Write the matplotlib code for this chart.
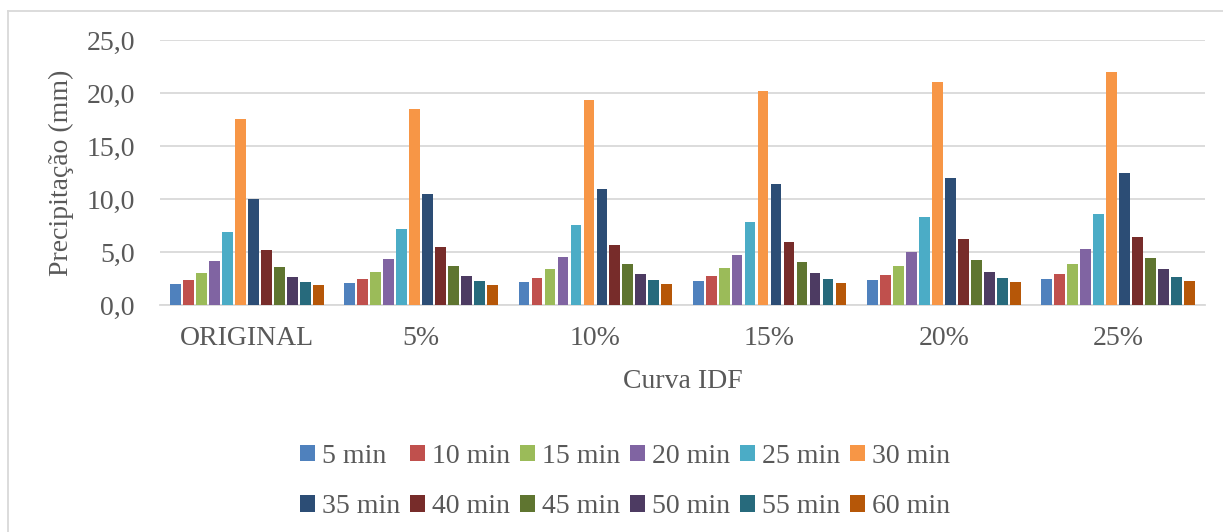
import numpy as np
import matplotlib
matplotlib.use("Agg")
import matplotlib.pyplot as plt
from matplotlib.lines import Line2D

# Dados
grupos = ["ORIGINAL", "5%", "10%", "15%", "20%", "25%"]
duracoes = ["5 min", "10 min", "15 min", "20 min", "25 min", "30 min",
            "35 min", "40 min", "45 min", "50 min", "55 min", "60 min"]
original = [2.0, 2.4, 3.1, 4.2, 6.9, 17.6, 10.0, 5.2, 3.6, 2.7, 2.2, 1.9]
p05 = [2.1, 2.5, 3.2, 4.4, 7.2, 18.5, 10.5, 5.5, 3.7, 2.8, 2.3, 1.9]
p10 = [2.2, 2.6, 3.4, 4.6, 7.6, 19.4, 11.0, 5.7, 3.9, 3.0, 2.4, 2.0]
p15 = [2.3, 2.8, 3.5, 4.8, 7.9, 20.2, 11.5, 6.0, 4.1, 3.1, 2.5, 2.1]
p20 = [2.4, 2.9, 3.7, 5.0, 8.3, 21.1, 12.0, 6.3, 4.3, 3.2, 2.6, 2.2]
p25 = [2.5, 3.0, 3.9, 5.3, 8.6, 22.0, 12.5, 6.5, 4.5, 3.4, 2.7, 2.3]

cores = ["#4F81BD", "#C0504D", "#9BBB59", "#8064A2", "#4BACC6", "#F79646",
         "#2C4D75", "#772C2A", "#5F7530", "#4D3B62", "#276A7C", "#B65708"]

dados = np.array([original, p05, p10, p15, p20, p25])

plt.rcParams['font.family'] = ['Liberation Serif', 'DejaVu Serif']
cinza = "#595959"
fs = 20

fig = plt.figure(figsize=(12.23, 5.32), dpi=100)
ax = fig.add_axes([0.1308, 0.4258, 0.8545, 0.4981])

x = np.arange(len(grupos))
passo = 0.0746
barras = []
for j, nome in enumerate(duracoes):
    b = ax.bar(x + (j - 5.5) * passo, dados[:, j], width=0.062,
               color=cores[j], label=nome, zorder=3)
    barras.append(b)

ax.set_xlim(-0.5, 5.5)
ax.set_ylim(0, 25)
ax.set_yticks(np.arange(0, 26, 5))
ax.set_yticklabels([f"{v:.1f}".replace(".", ",") for v in np.arange(0, 26, 5)])
ax.set_xticks(x)
ax.set_xticklabels(grupos)
ax.grid(axis='y', color="#d9d9d9", linewidth=1.3, zorder=0)
for s in ["top", "right", "left"]:
    ax.spines[s].set_visible(False)
ax.spines["bottom"].set_color("#d9d9d9")
ax.spines["bottom"].set_linewidth(1.3)
ax.tick_params(axis='both', length=0, labelsize=fs, colors=cinza)
ax.tick_params(axis='x', pad=15)
ax.tick_params(axis='y', pad=18)

ax.set_xlabel("Curva IDF", fontsize=fs, color=cinza, labelpad=13)
ax.set_ylabel("Precipitação (mm)", fontsize=fs, color=cinza, labelpad=9)

# legenda preenchida por linhas (6 colunas, 2 linhas)
ordem = [r * 6 + c for c in range(6) for r in range(2)]
leg = fig.legend([barras[i] for i in ordem], [duracoes[i] for i in ordem],
                 loc="center", bbox_to_anchor=(0.511, 0.095), ncol=6,
                 frameon=False, fontsize=fs, handlelength=0.54,
                 handleheight=0.54, handletextpad=0.25, columnspacing=0.36,
                 labelspacing=0.92)
for t in leg.get_texts():
    t.set_color(cinza)

# borda do gráfico
fig.add_artist(Line2D([8 / 1223, 1], [1 - 11 / 532, 1 - 11 / 532],
                      color="#d9d9d9", linewidth=1.3))
fig.add_artist(Line2D([8 / 1223, 8 / 1223], [0, 1 - 11 / 532],
                      color="#d9d9d9", linewidth=1.3))

fig.savefig("out.png", dpi=100)
